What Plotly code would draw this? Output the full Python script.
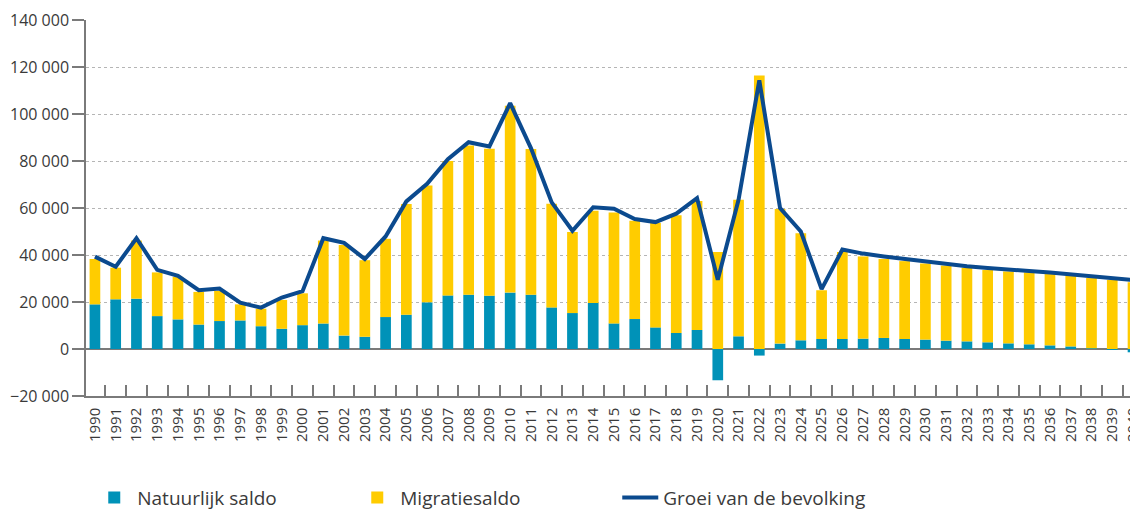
import plotly.graph_objects as go

# ---------------------------------------------------------------------------
# Data
# ---------------------------------------------------------------------------

YEARS = [str(y) for y in range(1990, 2041)]

NATUURLIJK = [
    19000, 21150, 21400, 14000, 12600, 10400, 11900, 12150, 9700, 8600,
    10150, 10850, 5700, 5200, 13600, 14600, 19850, 22800, 23100, 22700,
    24000, 23100, 17700, 15300, 19600, 10900, 12750, 9200, 6800, 8100,
    -13300, 5400, -2800, 2300, 3700, 4250, 4250, 4400, 4700, 4250,
    4000, 3550, 3250, 2850, 2400, 2000, 1550, 1100, 300, -400,
    -1400,
]

MIGRATIE = [
    19300, 13450, 24750, 18600, 18100, 13900, 12800, 6850, 7450, 12300,
    13550, 35300, 38600, 32600, 33300, 47100, 49750, 57200, 63500, 62500,
    79500, 62000, 44100, 34500, 39200, 47200, 41850, 44400, 50100, 54900,
    41300, 58100, 116400, 57300, 45600, 20750, 37050, 35000, 33600, 33150,
    32400, 31950, 31250, 30750, 30600, 30600, 30350, 30100, 29900, 29400,
    28400,
]

GROEI = [
    39300, 35000, 47150, 33700, 31150, 25000, 25700, 19700, 17600, 21900,
    24600, 47150, 45150, 38300, 47900, 62800, 70300, 80800, 88000, 86200,
    104600, 85500, 62400, 50300, 60300, 59700, 55300, 54000, 57600, 64200,
    29500, 63500, 114300, 60000, 50000, 25500, 42300, 40600, 39400, 38300,
    37200, 36200, 35200, 34500, 33700, 33200, 32600, 31900, 31200, 30300,
    29400,
]

# ---------------------------------------------------------------------------
# Styling
# ---------------------------------------------------------------------------

BLAUW = "#0092b8"
GEEL = "#ffcc00"
DONKERBLAUW = "#0b4a8e"
GRIJS = "#7a7a7a"
FONT = "Open Sans"

# de pagina heeft 8 px body-marge; figuur iets kleiner zodat ze in 1138x510 past
fig = go.Figure()

fig.add_trace(go.Bar(
    x=YEARS,
    y=NATUURLIJK,
    name="Natuurlijk saldo",
    marker=dict(color=BLAUW, line=dict(width=0)),
))

fig.add_trace(go.Bar(
    x=YEARS,
    y=MIGRATIE,
    name="Migratiesaldo",
    marker=dict(color=GEEL, line=dict(width=0)),
))

fig.add_trace(go.Scatter(
    x=YEARS,
    y=GROEI,
    name="Groei van de bevolking",
    mode="lines",
    line=dict(color=DONKERBLAUW, width=4),
))

fig.update_layout(
    width=1130,
    height=502,
    barmode="relative",
    bargap=0.485,
    separators=", ",
    paper_bgcolor="white",
    plot_bgcolor="white",
    margin=dict(l=78, r=0, t=12, b=114, autoexpand=False),
    font=dict(family=FONT, color="#3a3a3a", size=16),
    showlegend=True,
    legend=dict(
        orientation="h",
        x=0.005,
        xanchor="left",
        y=-0.22,
        yanchor="top",
        font=dict(size=19, color="#3a3a3a"),
        entrywidth=212,
        entrywidthmode="pixels",
        itemwidth=36,
        traceorder="normal",
    ),
)

fig.update_xaxes(
    type="category",
    range=[-0.43, 50.24],
    automargin=False,
    showgrid=False,
    showline=True,
    linecolor=GRIJS,
    linewidth=1.5,
    ticks="inside",
    tickson="boundaries",
    ticklen=11,
    tickwidth=1.5,
    tickcolor=GRIJS,
    tickangle=-90,
    tickfont=dict(size=15, color="#3a3a3a"),
    ticklabelstandoff=4,
)

fig.update_yaxes(
    range=[-20000, 140000],
    automargin=False,
    tickvals=[-20000, 0, 20000, 40000, 60000, 80000, 100000, 120000, 140000],
    tickformat=",d",
    showgrid=True,
    gridcolor="#b5b5b5",
    griddash="dot",
    gridwidth=1,
    zeroline=True,
    zerolinecolor=GRIJS,
    zerolinewidth=2,
    showline=True,
    linecolor=GRIJS,
    linewidth=1.5,
    ticks="outside",
    ticklen=12,
    tickwidth=1.5,
    tickcolor=GRIJS,
    tickfont=dict(size=16, color="#3a3a3a"),
)

fig.write_html("out.html")
